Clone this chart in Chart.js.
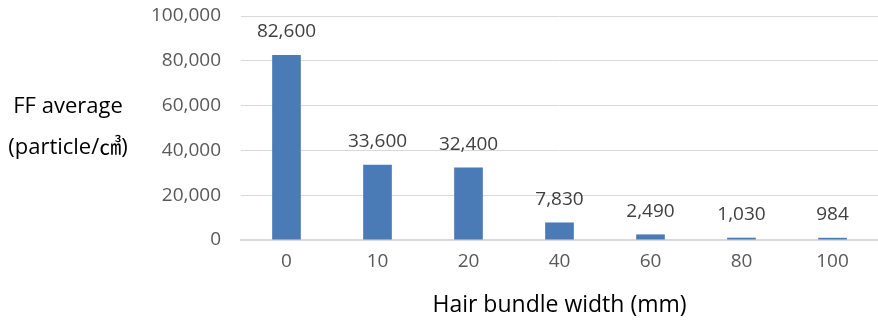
<!DOCTYPE html>
<html>
<head>
<meta charset="utf-8">
<script src="https://cdn.jsdelivr.net/npm/chart.js@4"></script>
<style>
  html, body { margin: 0; padding: 0; background: #fff; }
  #wrap { width: 878px; height: 323px; }
</style>
</head>
<body>
<div id="wrap"><canvas id="chart"></canvas></div>
<script>
const categories = ['0', '10', '20', '40', '60', '80', '100'];
const ffAverage = [82600, 33600, 32400, 7830, 2490, 1030, 984];
const yTitleLines = ['FF average', '(particle/㎤)'];
const xTitle = 'Hair bundle width (mm)';

const FONT = "'Open Sans', 'Noto Sans CJK KR', sans-serif";
const GREY = '#595959';

// value labels above each bar
const barLabels = {
  id: 'barLabels',
  afterDatasetsDraw(chart) {
    const ctx = chart.ctx;
    const meta = chart.getDatasetMeta(0);
    ctx.save();
    ctx.font = `19px ${FONT}`;
    ctx.fillStyle = '#404040';
    ctx.textAlign = 'center';
    ctx.textBaseline = 'middle';
    meta.data.forEach((bar, i) => {
      ctx.fillText(ffAverage[i].toLocaleString('en-US'), bar.x, bar.y - 23);
    });
    ctx.restore();
  }
};

// horizontal y-axis title on the left
const sideTitle = {
  id: 'sideTitle',
  afterDraw(chart) {
    const ctx = chart.ctx;
    ctx.save();
    ctx.font = `22px ${FONT}`;
    ctx.fillStyle = '#000';
    ctx.textAlign = 'center';
    ctx.textBaseline = 'middle';
    ctx.fillText(yTitleLines[0], 68, 107);
    ctx.fillText(yTitleLines[1], 68, 148);
    ctx.restore();
  }
};

new Chart(document.getElementById('chart'), {
  type: 'bar',
  data: {
    labels: categories,
    datasets: [{
      data: ffAverage,
      backgroundColor: '#4a7bb7',
      categoryPercentage: 1,
      barPercentage: 0.315
    }]
  },
  options: {
    responsive: true,
    maintainAspectRatio: false,
    animation: false,
    layout: { padding: { top: 16, left: 121, right: 0, bottom: 0 } },
    plugins: { legend: { display: false }, tooltip: { enabled: false } },
    scales: {
      x: {
        afterFit(scale) { scale.height = 83; },
        grid: { display: false },
        border: { color: '#d9d9d9', width: 2 },
        ticks: { color: GREY, font: { family: FONT, size: 19 }, padding: 2 },
        title: {
          display: true, text: xTitle, color: '#000',
          font: { family: FONT, size: 23 }, padding: { top: 10, bottom: 4 }
        }
      },
      y: {
        min: 0, max: 100000,
        afterFit(scale) {
          scale.width = 120;
          scale.paddingTop = 0;
          scale.paddingBottom = 0;
        },
        grid: { color: '#d9d9d9', lineWidth: 1, drawTicks: false },
        border: { display: false },
        ticks: {
          stepSize: 20000, color: GREY, padding: 20,
          font: { family: FONT, size: 19 },
          callback: v => v.toLocaleString('en-US')
        }
      }
    }
  },
  plugins: [barLabels, sideTitle]
});
</script>
</body>
</html>
